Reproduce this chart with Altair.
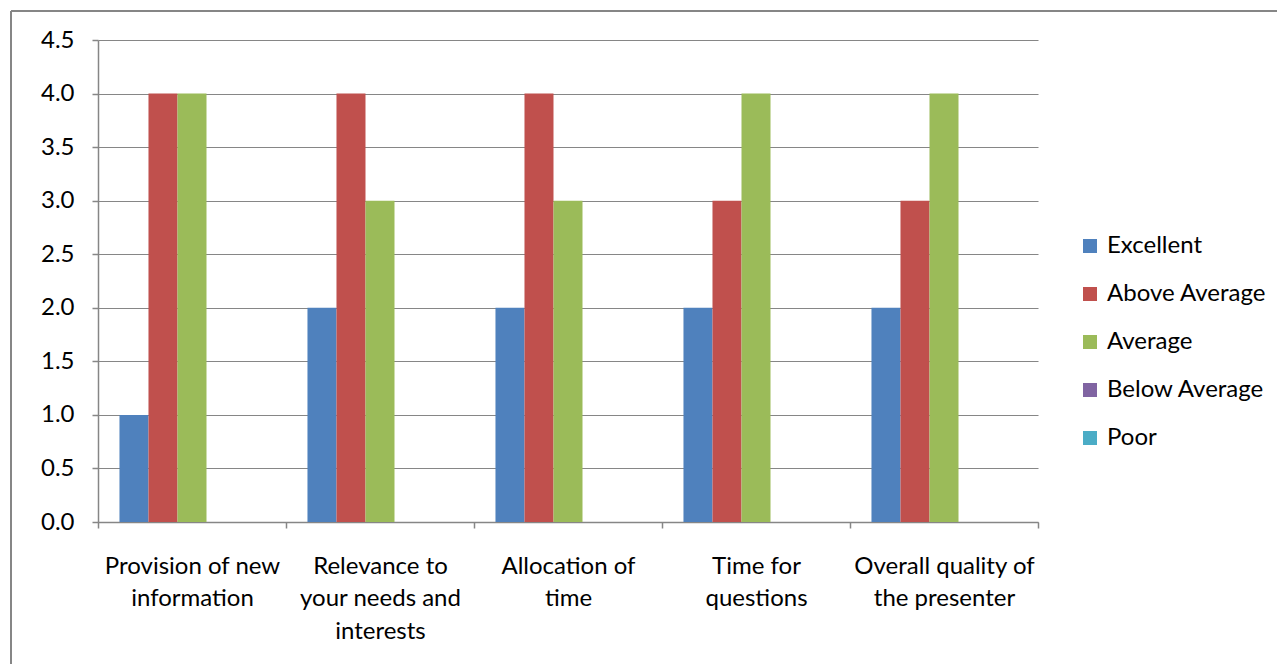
import altair as alt
import pandas as pd

categories = [
    "Provision of new|information",
    "Relevance to|your needs and|interests",
    "Allocation of|time",
    "Time for|questions",
    "Overall quality of|the presenter",
]
series = ["Excellent", "Above Average", "Average", "Below Average", "Poor"]
colors = ["#4F81BD", "#C0504D", "#9BBB59", "#8064A2", "#4BACC6"]
excellent = [1, 2, 2, 2, 2]
above_average = [4, 4, 4, 3, 3]
average = [4, 3, 3, 4, 4]
below_average = [0, 0, 0, 0, 0]
poor = [0, 0, 0, 0, 0]
y_ticks = [0, 0.5, 1, 1.5, 2, 2.5, 3, 3.5, 4, 4.5]

values = [excellent, above_average, average, below_average, poor]
rows = []
for s, vals in zip(series, values):
    for c, v in zip(categories, vals):
        rows.append({"category": c, "series": s, "value": v})
df = pd.DataFrame(rows)

FONT = "Lato"
GRAY = "#868686"
FS = 24

bars = alt.Chart(df).mark_bar().encode(
    x=alt.X("category:N", sort=categories, title=None,
            scale=alt.Scale(paddingInner=0, paddingOuter=0),
            axis=alt.Axis(labelExpr="split(datum.label, '|')", labelAngle=0,
                          tickBand="extent", tickSize=6, tickColor=GRAY, tickWidth=1.5,
                          domainColor=GRAY, domainWidth=1.5, grid=False,
                          labelFont=FONT, labelFontSize=FS, labelColor="black",
                          labelLineHeight=32.5, labelPadding=26, labelAlign="center",
                          labelBaseline="top", labelLimit=400)),
    xOffset=alt.XOffset("series:N", sort=series,
                        scale=alt.Scale(paddingInner=0, paddingOuter=0.74)),
    y=alt.Y("value:Q", title=None,
            scale=alt.Scale(domain=[0, 4.5], nice=False),
            axis=alt.Axis(values=y_ticks, format=".1f", tickSize=6, tickColor=GRAY,
                          tickWidth=1.5, domainColor=GRAY, domainWidth=1.5,
                          gridColor=GRAY, gridWidth=1.2, labelFont=FONT,
                          labelFontSize=FS, labelColor="black", labelPadding=18)),
    color=alt.Color("series:N", sort=series,
                    scale=alt.Scale(domain=series, range=colors),
                    legend=alt.Legend(title=None, orient="none", legendX=980, legendY=194,
                                      symbolType="square", symbolSize=196,
                                      symbolStrokeWidth=0, labelFont=FONT,
                                      labelFontSize=FS, labelColor="black",
                                      rowPadding=24, labelOffset=5, labelLimit=400)),
)

frame_left = alt.Chart(df).mark_rule(color=GRAY, strokeWidth=2).encode(
    x=alt.value(-87), y=alt.value(-29), y2=alt.value(700))
frame_top = alt.Chart(df).mark_rule(color=GRAY, strokeWidth=2).encode(
    y=alt.value(-29), x=alt.value(-87), x2=alt.value(1300))

chart = alt.layer(bars, frame_left, frame_top).properties(
    width=940, height=482,
    autosize=alt.AutoSizeParams(type="none"),
    padding={"left": 90, "top": 32, "right": 239, "bottom": 142},
).configure_view(stroke=None)

chart.save("out.html", embed_options={"renderer": "svg", "actions": False})
